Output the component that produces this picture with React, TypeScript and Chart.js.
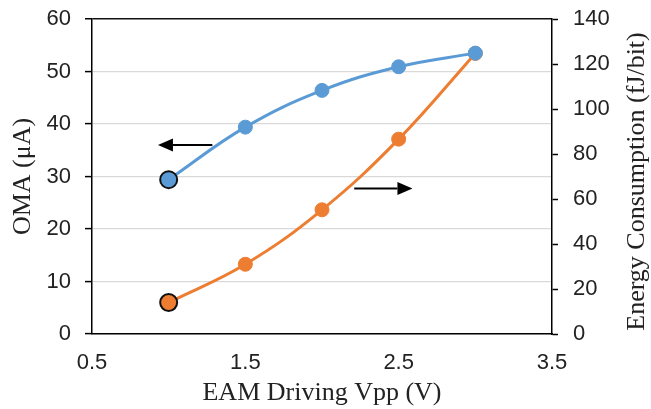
import React, { useEffect, useRef } from "react";
import { Chart, registerables } from "chart.js";

Chart.register(...registerables);

const vpp = [1.0, 1.5, 2.0, 2.5, 3.0];
const omaValues = [29.4, 39.4, 46.4, 50.9, 53.5];
const energyValues = [14, 31, 55.2, 86.6, 124.7];
const xTicks = [0.5, 1.5, 2.5, 3.5];
const xTitle = "EAM Driving Vpp (V)";
const leftTitle = "OMA (μA)";
const rightTitle = "Energy Consumption (fJ/bit)";
// arrows: [x1, x2, y(left axis units)] -> drawn from x1 to x2 (head at x2)
const arrowLeft = [1.285, 0.93, 36];
const arrowRight = [2.21, 2.59, 27.7];

const BLUE = "#5B9BD5";
const ORANGE = "#ED7D31";
const TITLE_FAMILY = "'Liberation Serif', 'Times New Roman', serif";
const TICK_FAMILY = "'Liberation Sans', Arial, sans-serif";

const arrowPlugin = {
  id: "arrows",
  afterDatasetsDraw(chart: any) {
    const { ctx } = chart;
    const xs = chart.scales.x;
    const ys = chart.scales.y;
    const draw = (a: number[]) => {
      const x1 = xs.getPixelForValue(a[0]);
      const x2 = xs.getPixelForValue(a[1]);
      const y = ys.getPixelForValue(a[2]);
      const dir = Math.sign(x2 - x1);
      const headLen = 15;
      const headHalf = 6.5;
      ctx.save();
      ctx.strokeStyle = "#000";
      ctx.fillStyle = "#000";
      ctx.lineWidth = 2;
      ctx.beginPath();
      ctx.moveTo(x1, y);
      ctx.lineTo(x2 - dir * headLen, y);
      ctx.stroke();
      ctx.beginPath();
      ctx.moveTo(x2, y);
      ctx.lineTo(x2 - dir * headLen, y - headHalf);
      ctx.lineTo(x2 - dir * headLen, y + headHalf);
      ctx.closePath();
      ctx.fill();
      ctx.restore();
    };
    draw(arrowLeft);
    draw(arrowRight);
  },
  afterDraw(chart: any) {
    // right axis title, rotated to read bottom-to-top like the left one
    const { ctx, chartArea } = chart;
    ctx.save();
    ctx.font = `26px ${TITLE_FAMILY}`;
    ctx.fillStyle = "#222";
    ctx.textAlign = "center";
    ctx.textBaseline = "middle";
    ctx.translate(chart.width - 14, (chartArea.top + chartArea.bottom) / 2 + 5);
    ctx.rotate(-Math.PI / 2);
    ctx.fillText(rightTitle, 0, 0);
    ctx.restore();
  },
};

export default function App() {
  const ref = useRef<HTMLCanvasElement>(null);
  useEffect(() => {
    document.body.style.margin = "0";
    const tickFont = { family: TICK_FAMILY, size: 22 };
    const titleFont = { family: TITLE_FAMILY, size: 26 };
    const chart = new Chart(ref.current!, {
      type: "line",
      data: {
        datasets: [
          {
            label: "OMA",
            data: vpp.map((x, i) => ({ x, y: omaValues[i] })),
            borderColor: BLUE,
            backgroundColor: BLUE,
            borderWidth: 3,
            tension: 0.4,
            pointRadius: vpp.map((_, i) => (i === 0 ? 8.5 : 7)),
            pointBorderWidth: vpp.map((_, i) => (i === 0 ? 2 : 1)),
            pointBorderColor: vpp.map((_, i) => (i === 0 ? "#111" : BLUE)),
            pointBackgroundColor: BLUE,
            yAxisID: "y",
          },
          {
            label: "Energy",
            data: vpp.map((x, i) => ({ x, y: energyValues[i] })),
            borderColor: ORANGE,
            backgroundColor: ORANGE,
            borderWidth: 3,
            tension: 0.4,
            pointRadius: vpp.map((_, i) => (i === 0 ? 8.5 : 7)),
            pointBorderWidth: vpp.map((_, i) => (i === 0 ? 2 : 1)),
            pointBorderColor: vpp.map((_, i) => (i === 0 ? "#111" : ORANGE)),
            pointBackgroundColor: ORANGE,
            yAxisID: "y1",
          },
        ],
      },
      options: {
        animation: false,
        responsive: true,
        maintainAspectRatio: false,
        layout: { padding: { top: 19, left: 0, right: 0, bottom: 0 } },
        plugins: { legend: { display: false }, tooltip: { enabled: false } },
        scales: {
          x: {
            type: "linear",
            min: 0.5,
            max: 3.5,
            afterBuildTicks: (s: any) => {
              s.ticks = xTicks.map((v) => ({ value: v }));
            },
            afterFit: (s: any) => {
              s.height = 75;
              s.paddingLeft = 0;
              s.paddingRight = 0;
            },
            grid: { display: false },
            border: { display: true, color: "#000", width: 1.5 },
            ticks: { font: tickFont, color: "#222", padding: 8, maxRotation: 0, callback: (v: any) => Number(v).toFixed(1) },
            title: { display: true, text: xTitle, font: titleFont, color: "#222", padding: { top: 0, bottom: 0 } },
          },
          y: {
            position: "left",
            min: 0,
            max: 60,
            ticks: { stepSize: 10, font: tickFont, color: "#222", padding: 14 },
            afterFit: (s: any) => {
              s.width = 92;
              s.paddingTop = 0;
              s.paddingBottom = 0;
            },
            grid: {
              color: (c: any) => (c.tick && c.tick.value === 60 ? "#111" : "#d9d9d9"),
              lineWidth: (c: any) => (c.tick && c.tick.value === 60 ? 1.5 : 1.2),
              tickColor: "#000",
              tickLength: 7,
              tickWidth: 1.5,
            },
            border: { display: true, color: "#000", width: 1.5 },
            title: { display: true, text: leftTitle, font: titleFont, color: "#222", padding: { top: 8, bottom: 0 } },
          },
          y1: {
            position: "right",
            min: 0,
            max: 140,
            ticks: { stepSize: 20, font: tickFont, color: "#222", padding: 15 },
            afterFit: (s: any) => {
              s.width = 99;
              s.paddingTop = 0;
              s.paddingBottom = 0;
            },
            grid: { drawOnChartArea: false, tickColor: "#000", tickLength: 6, tickWidth: 1.5 },
            border: { display: true, color: "#000", width: 1.5 },
            title: { display: false, text: rightTitle },
          },
        },
      },
      plugins: [arrowPlugin],
    });
    return () => chart.destroy();
  }, []);
  return (
    <div style={{ position: "absolute", left: 0, top: 0, width: 651, height: 409, background: "#fff" }}>
      <canvas ref={ref} />
    </div>
  );
}
